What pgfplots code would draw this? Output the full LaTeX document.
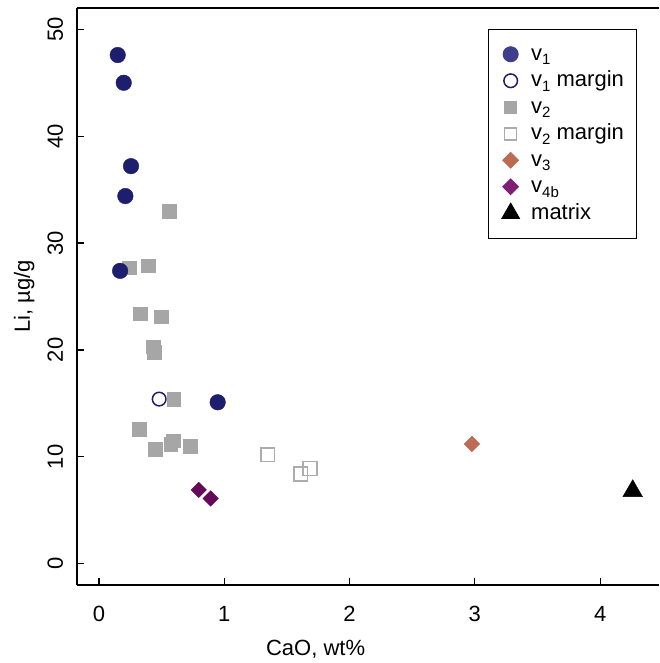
\documentclass[border=0pt]{standalone}
\usepackage{pgfplots}
\pgfplotsset{compat=1.18}
\usepackage{fontspec}
\setmainfont{Liberation Sans}

\definecolor{vone}{RGB}{30,30,110}
\definecolor{vonel}{RGB}{62,62,140}
\definecolor{vtwo}{RGB}{166,166,166}
\definecolor{vtwom}{RGB}{172,172,172}
\definecolor{vthree}{RGB}{188,108,84}
\definecolor{vfour}{RGB}{100,10,90}
\definecolor{vfourl}{RGB}{128,30,118}

\newcommand{\sub}[1]{\raisebox{-0.22em}{\fontsize{15}{15}\selectfont #1}}
\newcommand{\chartfont}{\fontsize{22}{26}\selectfont}

\begin{document}
\begin{tikzpicture}
  \begin{axis}[
      name=ax,
      scale only axis,
      width=582pt, height=577pt,
      xmin=-0.176, xmax=4.47,
      ymin=-2, ymax=52,
      axis x line*=bottom, axis y line*=left,
      axis line style={line width=1.2pt},
      tick align=inside,
      major tick length=7pt,
      tick style={line width=1.2pt, black},
      xtick={0,1,2,3,4},
      ytick={0,10,20,30,40,50},
      /pgf/number format/assume math mode=true,
      ticklabel style={font=\chartfont},
      xticklabel style={anchor=base, inner sep=0pt},
      xticklabel shift=36pt,
      yticklabel style={rotate=90, anchor=base, inner sep=0pt},
      yticklabel shift=14pt,
      xlabel={CaO, wt\%},
      ylabel={Li, µg/g},
      label style={font=\chartfont},
      xlabel style={at={(axis description cs:0.41,-0.123)}, anchor=base, inner sep=0pt},
      ylabel style={at={(axis description cs:-0.0808,0.5)}, anchor=base, inner sep=0pt},
      clip=false,
      legend cell align=left,
      legend image code/.code={
        \path (-9pt,0pt) (9pt,0pt);
        \draw[#1] plot coordinates {(0pt,0pt)};
      },
      legend style={
        at={(rel axis cs:0.962,0.9636)}, anchor=north east,
        draw=black, line width=1pt,
        font=\chartfont,
        inner xsep=12.5pt, inner ysep=11.5pt,
        column sep=11pt, row sep=0pt,
        nodes={inner sep=0pt, text height=19pt, text depth=7.5pt},
      },
    ]
    % v1 margin
    \addplot[only marks, mark=o, mark size=6.8pt,
      mark options={draw=vone, line width=1.5pt}, forget plot]
      coordinates {(0.48,15.4)};
    % v2
    \addplot[only marks, mark=square*, mark size=6.8pt,
      mark options={draw=vtwo, fill=vtwo}, forget plot]
      coordinates {
        (0.561,33.0) (0.242,27.7) (0.394,27.9) (0.330,23.4) (0.497,23.1)
        (0.441,19.8) (0.433,20.3) (0.595,15.4) (0.322,12.6) (0.447,10.7)
        (0.572,11.2) (0.593,11.5) (0.726,11.0)
      };
    % v2 margin
    \addplot[only marks, mark=square, mark size=6.9pt,
      mark options={draw=vtwom, line width=1.6pt}, forget plot]
      coordinates {(1.346,10.2) (1.610,8.4) (1.684,8.9)};
    % v3
    \addplot[only marks, mark=square*, mark size=5.5pt,
      mark options={draw=vthree, fill=vthree, rotate=45}, forget plot]
      coordinates {(2.977,11.2)};
    % v4b
    \addplot[only marks, mark=square*, mark size=5.5pt,
      mark options={draw=vfour, fill=vfour, rotate=45}, forget plot]
      coordinates {(0.796,6.9) (0.891,6.1)};
    % v1
    \addplot[only marks, mark=*, mark size=7.8pt,
      mark options={draw=vone, fill=vone}, forget plot]
      coordinates {
        (0.149,47.6) (0.197,45.0) (0.255,37.2) (0.210,34.4) (0.168,27.4)
        (0.947,15.1)
      };
    % matrix
    \addplot[only marks, mark=triangle*, mark size=11.3pt,
      mark options={draw=black, fill=black}, forget plot]
      coordinates {(4.26,6.8)};

    \addlegendimage{only marks, mark=*, mark size=7.5pt, mark options={draw=vonel, fill=vonel}}
    \addlegendentry{v\sub{1}}
    \addlegendimage{only marks, mark=o, mark size=6.8pt, mark options={draw=vone, line width=1.5pt}}
    \addlegendentry{v\sub{1} margin}
    \addlegendimage{only marks, mark=square*, mark size=6pt, mark options={draw=vtwo, fill=vtwo}}
    \addlegendentry{v\sub{2}}
    \addlegendimage{only marks, mark=square, mark size=6pt, mark options={draw=vtwom, line width=1.6pt}}
    \addlegendentry{v\sub{2} margin}
    \addlegendimage{only marks, mark=square*, mark size=5.5pt, mark options={draw=vthree, fill=vthree, rotate=45}}
    \addlegendentry{v\sub{3}}
    \addlegendimage{only marks, mark=square*, mark size=5.5pt, mark options={draw=vfourl, fill=vfourl, rotate=45}}
    \addlegendentry{v\sub{4b}}
    \addlegendimage{only marks, mark=triangle*, mark size=10pt, mark options={draw=black, fill=black}}
    \addlegendentry{matrix}
  \end{axis}
  \draw[line width=1.2pt] (ax.north west) -- (ax.north east);
  \pgfresetboundingbox
  \path[use as bounding box] ([shift={(-77pt,-78pt)}]ax.south west)
    rectangle ([shift={(0pt,8pt)}]ax.north east);
\end{tikzpicture}
\end{document}
